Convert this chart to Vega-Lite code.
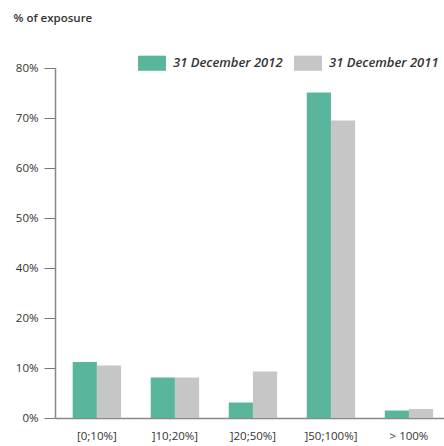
{
  "$schema": "https://vega.github.io/schema/vega-lite/v6.json",
  "autosize": {"type": "none"},
  "padding": {"left": 55, "top": 68, "right": 0, "bottom": 28},
  "width": 389,
  "height": 350,
  "background": "white",
  "config": {"view": {"stroke": null}, "font": "Open Sans"},
  "data": {"values": [
    {"bucket": "[0;10%]", "year": "31 December 2012", "value": 11.2},
    {"bucket": "[0;10%]", "year": "31 December 2011", "value": 10.5},
    {"bucket": "]10;20%]", "year": "31 December 2012", "value": 8.1},
    {"bucket": "]10;20%]", "year": "31 December 2011", "value": 8.1},
    {"bucket": "]20;50%]", "year": "31 December 2012", "value": 3.1},
    {"bucket": "]20;50%]", "year": "31 December 2011", "value": 9.3},
    {"bucket": "]50;100%]", "year": "31 December 2012", "value": 75.1},
    {"bucket": "]50;100%]", "year": "31 December 2011", "value": 69.5},
    {"bucket": "> 100%", "year": "31 December 2012", "value": 1.5},
    {"bucket": "> 100%", "year": "31 December 2011", "value": 1.8}
  ]},
  "mark": {"type": "bar"},
  "encoding": {
    "x": {
      "field": "bucket", "type": "nominal",
      "sort": ["[0;10%]", "]10;20%]", "]20;50%]", "]50;100%]", "> 100%"],
      "scale": {"paddingInner": 0.38, "paddingOuter": 0.183, "align": 0.62},
      "axis": {"title": null, "labelAngle": 0, "ticks": false, "labelPadding": 12, "labelFontSize": 11.5, "labelColor": "#333", "domainColor": "#888", "domainWidth": 1.5, "labelFontWeight": 500}
    },
    "xOffset": {"field": "year", "type": "nominal", "sort": ["31 December 2012", "31 December 2011"], "scale": {"paddingInner": 0, "paddingOuter": 0}},
    "y": {
      "field": "value", "type": "quantitative",
      "scale": {"domain": [0, 20, 40, 80], "range": [350, 250, 200, 0], "nice": false, "zero": false},
      "axis": {
        "values": [0, 10, 20, 40, 50, 60, 70, 80],
        "labelExpr": "datum.value + '%'",
        "grid": false, "tickSize": 11, "tickColor": "#777", "labelPadding": 6,
        "domainColor": "#888", "domainWidth": 1.5,
        "labelFontSize": 11.5, "labelColor": "#333", "labelFontWeight": 500,
        "title": "% of exposure", "titleAngle": 0, "titleAlign": "left", "titleBaseline": "middle",
        "titleX": -42, "titleY": -50, "titleFontSize": 11.5, "titleFontWeight": 600, "titleColor": "#333"
      }
    },
    "color": {
      "field": "year", "type": "nominal",
      "scale": {"domain": ["31 December 2012", "31 December 2011"], "range": ["#5ab59d", "#c6c6c6"]},
      "legend": {
        "title": null, "orient": "none", "legendX": 83, "legendY": -19, "direction": "horizontal",
        "symbolType": "M-1,-0.54H1V0.54H-1Z", "symbolSize": 784, "symbolStrokeWidth": 0,
        "labelFontSize": 13, "labelFontStyle": "italic", "labelFontWeight": 600, "labelColor": "#333",
        "labelOffset": 7, "columnPadding": 11
      }
    }
  }
}
